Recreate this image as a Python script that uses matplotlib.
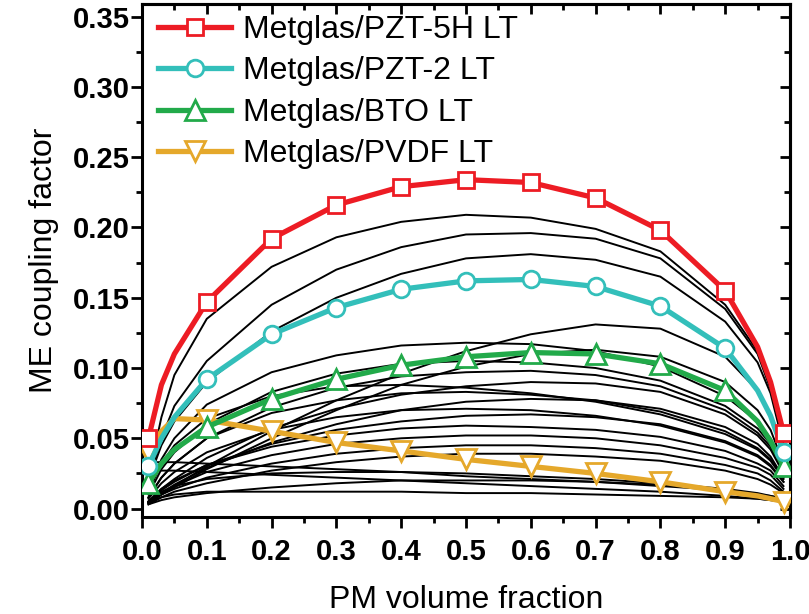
import matplotlib
matplotlib.use("Agg")
import matplotlib.pyplot as plt
from matplotlib.ticker import MultipleLocator, FormatStrFormatter

plt.rcParams['font.family'] = ['Liberation Sans', 'DejaVu Sans']

# PM volume fraction sample positions
x_grid = [0.01, 0.03, 0.05, 0.1, 0.2, 0.3, 0.4, 0.5, 0.6, 0.7, 0.8, 0.9, 0.95, 0.97, 0.99]
marker_idx = [0, 3, 4, 5, 6, 7, 8, 9, 10, 11, 14]

# Highlighted series
pzt5h = [0.050, 0.088, 0.110, 0.147, 0.192, 0.216, 0.229, 0.234, 0.232, 0.221, 0.198, 0.155, 0.115, 0.090, 0.054]
pzt2  = [0.030, 0.050, 0.065, 0.092, 0.124, 0.143, 0.156, 0.162, 0.163, 0.158, 0.144, 0.114, 0.084, 0.066, 0.040]
bto   = [0.018, 0.032, 0.042, 0.058, 0.078, 0.092, 0.102, 0.108, 0.111, 0.110, 0.103, 0.084, 0.062, 0.048, 0.030]
pvdf  = [0.040, 0.055, 0.064, 0.063, 0.055, 0.047, 0.041, 0.035, 0.030, 0.025, 0.019, 0.012, 0.009, 0.007, 0.005]

series_labels = ['Metglas/PZT-5H LT', 'Metglas/PZT-2 LT', 'Metglas/BTO LT', 'Metglas/PVDF LT']

# Other material combinations (thin black curves)
u1  = [0.022, 0.065, 0.095, 0.135, 0.172, 0.193, 0.204, 0.209, 0.207, 0.199, 0.183, 0.145, 0.112, 0.087, 0.048]
u2  = [0.020, 0.050, 0.073, 0.105, 0.145, 0.170, 0.186, 0.195, 0.196, 0.192, 0.178, 0.142, 0.110, 0.085, 0.046]
u3  = [0.020, 0.045, 0.062, 0.090, 0.126, 0.150, 0.167, 0.178, 0.181, 0.177, 0.165, 0.133, 0.104, 0.082, 0.045]
m1  = [0.004, 0.010, 0.016, 0.030, 0.055, 0.077, 0.096, 0.112, 0.124, 0.131, 0.128, 0.108, 0.084, 0.066, 0.036]
m2  = [0.012, 0.035, 0.050, 0.074, 0.097, 0.109, 0.116, 0.118, 0.117, 0.112, 0.101, 0.080, 0.062, 0.050, 0.030]
m3  = [0.004, 0.010, 0.015, 0.028, 0.050, 0.070, 0.088, 0.101, 0.110, 0.113, 0.108, 0.090, 0.070, 0.056, 0.032]
m4  = [0.010, 0.028, 0.040, 0.060, 0.083, 0.096, 0.103, 0.105, 0.104, 0.100, 0.091, 0.073, 0.057, 0.046, 0.028]
m5  = [0.008, 0.022, 0.032, 0.050, 0.072, 0.086, 0.094, 0.097, 0.098, 0.095, 0.087, 0.070, 0.054, 0.044, 0.026]
m6  = [0.005, 0.014, 0.021, 0.036, 0.057, 0.071, 0.081, 0.087, 0.090, 0.089, 0.083, 0.067, 0.052, 0.042, 0.025]
m7  = [0.008, 0.022, 0.032, 0.050, 0.068, 0.077, 0.082, 0.083, 0.081, 0.077, 0.069, 0.055, 0.043, 0.035, 0.022]
m8  = [0.004, 0.011, 0.017, 0.029, 0.047, 0.060, 0.070, 0.076, 0.078, 0.077, 0.071, 0.058, 0.046, 0.037, 0.022]
m9  = [0.007, 0.018, 0.026, 0.040, 0.056, 0.065, 0.070, 0.071, 0.070, 0.066, 0.059, 0.047, 0.037, 0.030, 0.019]
m10 = [0.005, 0.013, 0.019, 0.031, 0.046, 0.056, 0.062, 0.066, 0.067, 0.065, 0.060, 0.048, 0.038, 0.031, 0.019]
m11 = [0.005, 0.014, 0.020, 0.031, 0.044, 0.052, 0.057, 0.059, 0.058, 0.056, 0.051, 0.041, 0.032, 0.027, 0.016]
m12 = [0.004, 0.011, 0.016, 0.026, 0.038, 0.046, 0.050, 0.052, 0.052, 0.050, 0.045, 0.036, 0.029, 0.024, 0.014]
m13 = [0.004, 0.010, 0.014, 0.022, 0.032, 0.039, 0.043, 0.045, 0.045, 0.043, 0.039, 0.031, 0.025, 0.020, 0.012]
m14 = [0.003, 0.008, 0.012, 0.018, 0.027, 0.033, 0.037, 0.039, 0.039, 0.037, 0.034, 0.027, 0.021, 0.017, 0.011]
m15 = [0.012, 0.032, 0.045, 0.064, 0.080, 0.087, 0.088, 0.086, 0.082, 0.076, 0.067, 0.053, 0.042, 0.034, 0.021]
l1  = [0.033, 0.033, 0.033, 0.032, 0.030, 0.028, 0.026, 0.023, 0.021, 0.019, 0.016, 0.013, 0.010, 0.009, 0.007]
l2  = [0.005, 0.012, 0.016, 0.021, 0.025, 0.026, 0.026, 0.025, 0.023, 0.021, 0.018, 0.014, 0.011, 0.009, 0.007]
l3  = [0.004, 0.008, 0.010, 0.012, 0.012, 0.012, 0.012, 0.011, 0.011, 0.010, 0.009, 0.008, 0.007, 0.006, 0.005]
l4  = [0.026, 0.027, 0.027, 0.026, 0.024, 0.022, 0.020, 0.018, 0.016, 0.014, 0.012, 0.009, 0.007, 0.006, 0.005]
l5  = [0.003, 0.006, 0.008, 0.011, 0.015, 0.018, 0.020, 0.020, 0.020, 0.019, 0.017, 0.013, 0.010, 0.008, 0.006]
others = [u1, u2, u3, m1, m2, m3, m4, m5, m6, m7, m8, m9, m10, m11, m12, m13, m14, m15, l1, l2, l3, l4, l5]

x_ticks = [0.0, 0.1, 0.2, 0.3, 0.4, 0.5, 0.6, 0.7, 0.8, 0.9, 1.0]
y_ticks = [0.00, 0.05, 0.10, 0.15, 0.20, 0.25, 0.30, 0.35]

fig = plt.figure(figsize=(8.09, 6.14), dpi=100)
ax = fig.add_axes([0.1755, 0.158, 0.801, 0.8355])

for ys in others:
    ax.plot(x_grid, ys, color='black', lw=1.4, zorder=2, solid_joinstyle='round')

colors = ['#ED1C24', '#33BFBA', '#22AA4A', '#E5A82B']
markers = ['s', 'o', '^', 'v']
msizes = [12, 12, 15, 15]
data = [pzt5h, pzt2, bto, pvdf]
handles = []
for i in [3, 2, 1, 0]:
    h, = ax.plot(x_grid, data[i], color=colors[i], lw=3.8, marker=markers[i],
                 markevery=marker_idx, ms=msizes[i], mfc='white', mec=colors[i],
                 mew=2.0, label=series_labels[i], zorder=3 + (3 - i),
                 solid_joinstyle='round')
    handles.append(h)
handles = handles[::-1]

ax.set_xlim(0, 1.0)
ax.set_ylim(-0.006, 0.359)
ax.set_xticks(x_ticks)
ax.set_yticks(y_ticks)
ax.xaxis.set_minor_locator(MultipleLocator(0.05))
ax.yaxis.set_minor_locator(MultipleLocator(0.025))
ax.xaxis.set_major_formatter(FormatStrFormatter('%.1f'))
ax.yaxis.set_major_formatter(FormatStrFormatter('%.2f'))
for lab in ax.get_xticklabels() + ax.get_yticklabels():
    lab.set_fontweight('bold')
    lab.set_fontsize(21)
ax.tick_params(axis='both', which='major', direction='out', length=8, width=2)
ax.tick_params(axis='both', which='minor', direction='out', length=4, width=2)
ax.tick_params(axis='x', which='major', pad=7)
ax.tick_params(axis='y', which='major', pad=1)
for sp in ax.spines.values():
    sp.set_linewidth(2.2)

secx = ax.secondary_xaxis('top')
secx.set_xticks(x_ticks)
secx.xaxis.set_minor_locator(MultipleLocator(0.05))
secx.tick_params(which='major', direction='in', length=7, width=2, labeltop=False)
secx.tick_params(which='minor', direction='in', length=4, width=2)
secy = ax.secondary_yaxis('right')
secy.set_yticks(y_ticks)
secy.yaxis.set_minor_locator(MultipleLocator(0.025))
secy.tick_params(which='major', direction='in', length=7, width=2, labelright=False)
secy.tick_params(which='minor', direction='in', length=4, width=2)
secx.spines['top'].set_linewidth(2.2)
secy.spines['right'].set_linewidth(2.2)

ax.set_xlabel('PM volume fraction', fontsize=23, labelpad=14)
ax.set_ylabel('ME coupling factor', fontsize=23, labelpad=10)

ax.legend(handles=handles, loc='upper left', bbox_to_anchor=(0.008, 1.0),
          frameon=False, fontsize=23, handlelength=2.3, handletextpad=0.35,
          labelspacing=0.36, borderpad=0.1, borderaxespad=0.24)

fig.savefig('out.png', dpi=100)
